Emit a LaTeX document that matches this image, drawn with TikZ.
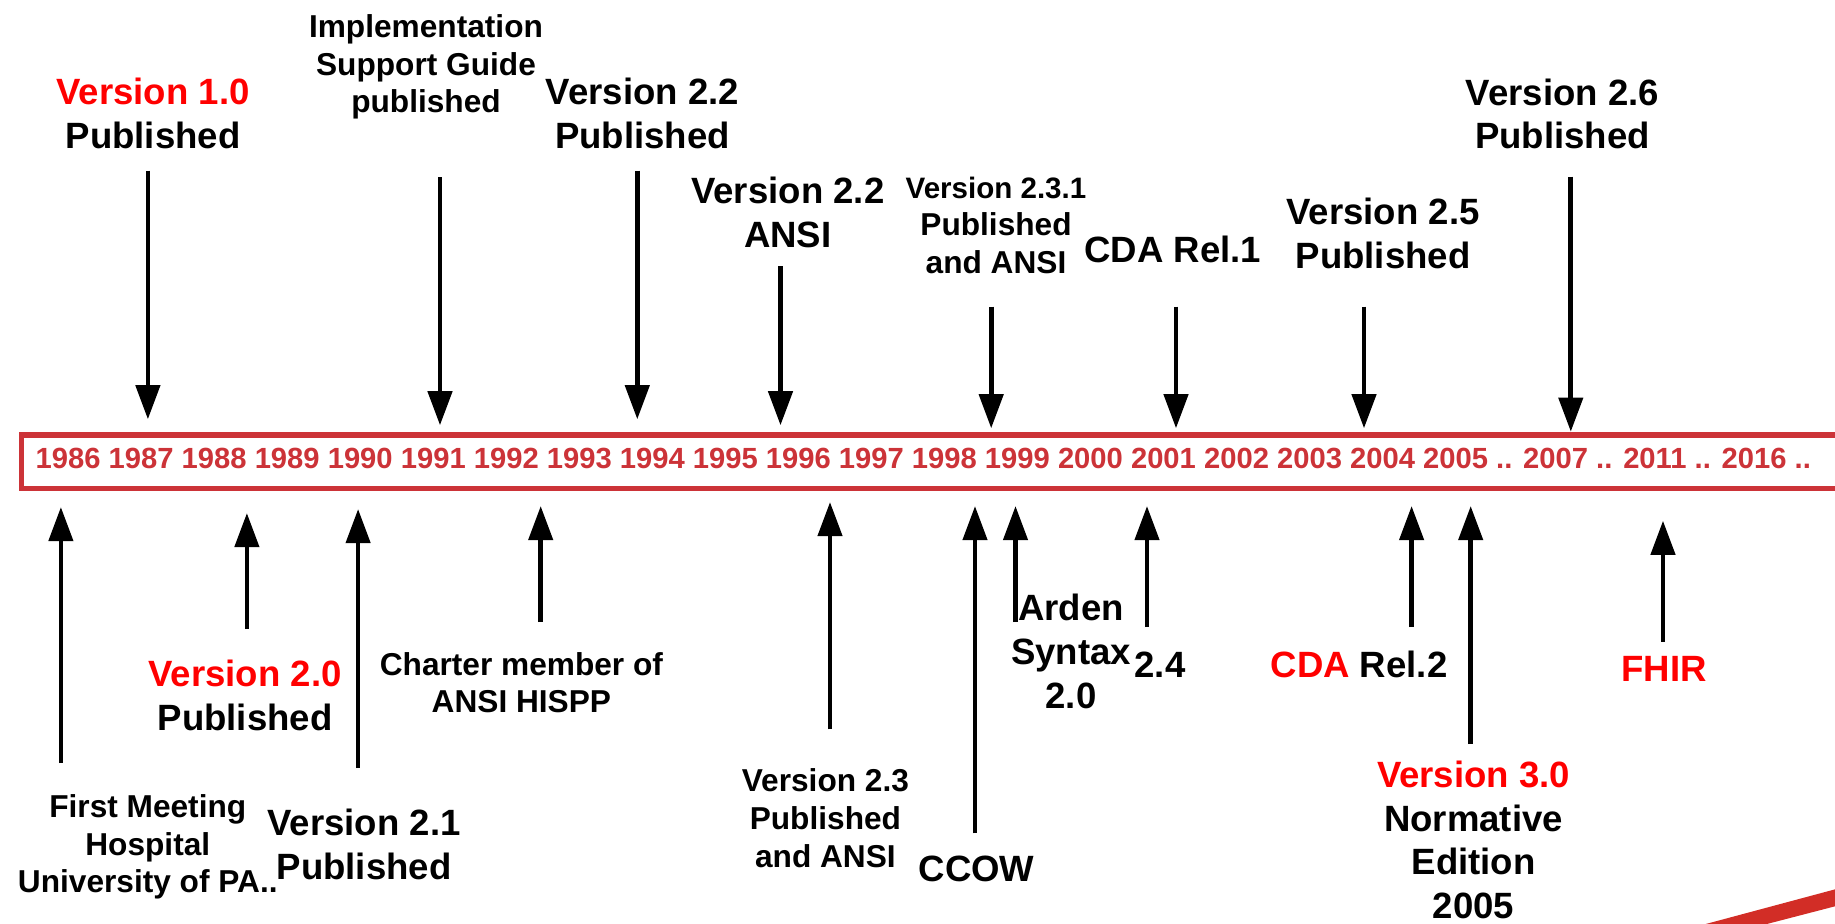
\documentclass[tikz,border=0pt]{standalone}
\usepackage{fontspec}
\setmainfont{Liberation Sans}
\usetikzlibrary{arrows.meta}
\definecolor{barred}{RGB}{204,51,56}
\definecolor{hlred}{RGB}{255,0,0}
\definecolor{swooshred}{RGB}{210,45,38}
\begin{document}
\begin{tikzpicture}[x=0.01cm,y=-0.01cm,
  big/.style={font=\bfseries\fontsize{10.4}{12.5}\selectfont, align=center, inner sep=0pt, anchor=north},
  small/.style={font=\bfseries\fontsize{9}{10.7}\selectfont, align=center, inner sep=0pt, anchor=north},
  arr/.style={line width=1.34pt, -{Triangle[length=9.7pt,width=6.8pt]}},
  yearbar/.style={draw=barred, line width=1.6pt, inner sep=0pt, anchor=north west},
]
\useasboundingbox (0,0) rectangle (1835,923);
\clip (0,0) rectangle (1835,923);

% timeline bar
\node[yearbar, minimum width=18.4cm, minimum height=0.535cm] (bar) at (18.5,432) {};
\node[anchor=base west, inner sep=0pt, text=barred, font=\bfseries\fontsize{8.3}{10}\selectfont] (years) at (35,468.3)
  {1986 1987 1988 1989 1990 1991 1992 1993 1994 1995 1996 1997 1998 1999 2000 2001 2002 2003 2004 2005 .. 2007 .. 2011 .. 2016 ..};

% top labels
\node[big] (t1) at (153,77.3) {\textcolor{hlred}{Version 1.0}\\Published};
\node[small] (t2) at (426,14) {Implementation\\Support Guide\\published};
\node[big] (t3) at (642.5,77.3) {Version 2.2\\Published};
\node[big] (t4) at (787.8,176.7) {Version 2.2\\ANSI};
\node[small] (t5) at (996,176) {{\fontsize{8.4}{10.7}\selectfont Version 2.3.1}\\Published\\and ANSI};
\node[big] (t6) at (1172.8,235) {CDA Rel.1};
\node[big] (t7) at (1383,197.7) {Version 2.5\\Published};
\node[big] (t8) at (1562.4,77.8) {Version 2.6\\Published};

% bottom labels
\node[small] (l1) at (147.8,794) {First Meeting\\Hospital\\University of PA..};
\node[big] (l2) at (245,659.3) {\textcolor{hlred}{Version 2.0}\\Published};
\node[big] (l3) at (364,808.3) {Version 2.1\\Published};
\node[small] (l4) at (521.4,651.7) {Charter member of\\ANSI HISPP};
\node[small] (l5) at (825.4,768.3) {Version 2.3\\Published\\and ANSI};
\node[big] (l6) at (976.5,855) {CCOW};
\node[big] (l7) at (1071,593.3) {Arden\\Syntax\\2.0};
\node[big] (l8) at (1160,651.7) {2.4};
\node[big] (l9) at (1359,650.7) {\textcolor{hlred}{CDA} Rel.2};
\node[big] (l10) at (1664,656) {\textcolor{hlred}{FHIR}};
\node[big, font=\bfseries\fontsize{10.4}{12.35}\selectfont] (l11) at (1473.6,760.5) {\textcolor{hlred}{Version 3.0}\\Normative\\Edition\\2005};

% arrow end points
\coordinate (a1s) at (147.9,170.7);  \coordinate (a1e) at (147.9,419.3);
\coordinate (a2s) at (440,177.3);    \coordinate (a2e) at (440,425.3);
\coordinate (a3s) at (637.3,170.7);  \coordinate (a3e) at (637.3,419.3);
\coordinate (a4s) at (780.5,266);    \coordinate (a4e) at (780.5,425.3);
\coordinate (a5s) at (991.2,306.7);  \coordinate (a5e) at (991.2,428.3);
\coordinate (a6s) at (1176,306.7);   \coordinate (a6e) at (1176,428.3);
\coordinate (a7s) at (1364,306.7);   \coordinate (a7e) at (1364,428.3);
\coordinate (a8s) at (1570.8,176.7); \coordinate (a8e) at (1570.8,431.7);

\coordinate (b1s) at (60.9,763);     \coordinate (b1e) at (60.9,507);
\coordinate (b2s) at (246.9,629);    \coordinate (b2e) at (246.9,513);
\coordinate (b3s) at (358.1,768);    \coordinate (b3e) at (358.1,509);
\coordinate (b4s) at (540.7,622);    \coordinate (b4e) at (540.7,506);
\coordinate (b5s) at (830,729.3);    \coordinate (b5e) at (830,502);
\coordinate (b6s) at (975,833.3);    \coordinate (b6e) at (975,506);
\coordinate (b7s) at (1015.5,622);   \coordinate (b7e) at (1015.5,506);
\coordinate (b8s) at (1147,627);     \coordinate (b8e) at (1147,506);
\coordinate (b9s) at (1411.6,627);   \coordinate (b9e) at (1411.6,506);
\coordinate (b10s) at (1470.7,744);  \coordinate (b10e) at (1470.7,506);
\coordinate (b11s) at (1663,641.7);  \coordinate (b11e) at (1663,520.7);

\foreach \i in {1,...,8} { \draw[arr] (a\i s) -- (a\i e); }
\foreach \i in {1,...,11} { \draw[arr] (b\i s) -- (b\i e); }

% decorative swoosh
\fill[swooshred] (1702,925) -- (1840,888) -- (1840,905) -- (1763,925) -- cycle;
\end{tikzpicture}
\end{document}
